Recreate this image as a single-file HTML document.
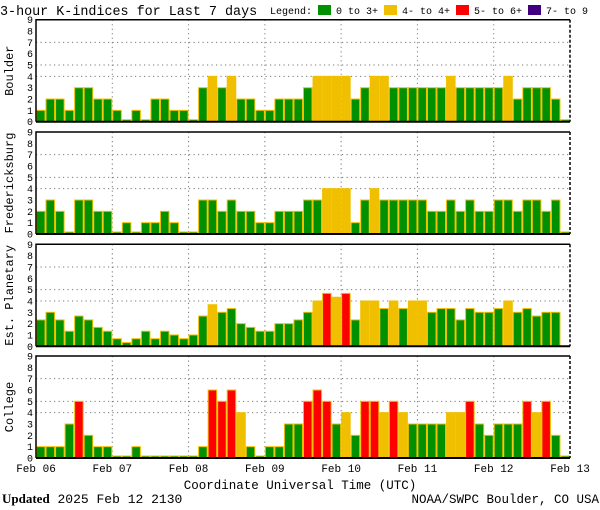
<!DOCTYPE html>
<html><head><meta charset="utf-8">
<style>
body{margin:0;background:#fff;width:600px;height:510px;overflow:hidden}
svg{display:block}
text{font-family:"Liberation Mono","DejaVu Sans Mono",monospace;fill:#000}
</style></head>
<body>
<svg id="chart" width="600" height="510" viewBox="0 0 600 510" xmlns="http://www.w3.org/2000/svg">
<text x="0" y="15" font-size="13.4">3-hour K-indices for Last 7 days</text>
<text x="270" y="14" font-size="10">Legend:</text>
<rect x="318" y="5" width="13" height="10" fill="#009000"/>
<text x="336" y="14" font-size="10">0 to 3+</text>
<rect x="384" y="5" width="13" height="10" fill="#f0c000"/>
<text x="402" y="14" font-size="10">4- to 4+</text>
<rect x="456" y="5" width="13" height="10" fill="#ff0000"/>
<text x="474" y="14" font-size="10">5- to 6+</text>
<rect x="528" y="5" width="13" height="10" fill="#400080"/>
<text x="546" y="14" font-size="10">7- to 9</text>
<text x="300" y="489" font-size="12.5" text-anchor="middle">Coordinate Universal Time (UTC)</text>
<text x="2" y="503" font-size="13"><tspan font-family="Liberation Serif,serif" font-weight="bold">Updated</tspan> 2025 Feb 12 2130</text>
<text x="599" y="503" font-size="12.5" text-anchor="end">NOAA/SWPC Boulder, CO USA</text>
</svg>
<script>
const panelNames = ["Boulder","Fredericksburg","Est. Planetary","College"];
const dayLabels = ["Feb 06","Feb 07","Feb 08","Feb 09","Feb 10","Feb 11","Feb 12","Feb 13"];
const yTicks = [0,1,2,3,4,5,6,7,8,9];
const gridLevels = [4,5,7];
const boulder = [1,2,2,1,3,3,2,2,1,0,1,0,2,2,1,1,0,3,4,3,4,2,2,1,1,2,2,2,3,4,4,4,4,2,3,4,4,3,3,3,3,3,3,4,3,3,3,3,3,4,2,3,3,3,2,0];
const fredericksburg = [2,3,2,0,3,3,2,2,0,1,0,1,1,2,1,0,0,3,3,2,3,2,2,1,1,2,2,2,3,3,4,4,4,1,3,4,3,3,3,3,3,2,2,3,2,3,2,2,3,3,2,3,3,2,3,0];
const planetary = [2.33,3,2.33,1.33,2.67,2.33,1.67,1.33,0.67,0.33,0.67,1.33,0.67,1.33,1,0.67,1,2.67,3.67,3,3.33,2,1.67,1.33,1.33,2,2,2.33,3,4,4.67,4.33,4.67,2.33,4,4,3.33,4,3.33,4,4,3,3.33,3.33,2.33,3.33,3,3,3.33,4,3,3.33,2.67,3,3,null];
const college = [1,1,1,3,5,2,1,1,0,0,1,0,0,0,0,0,0,1,6,5,6,4,1,0,1,1,3,3,5,6,5,3,4,2,5,5,4,5,4,3,3,3,3,4,4,5,3,2,3,3,3,5,4,5,2,0];
const series = [boulder,fredericksburg,planetary,college];

const svg = document.getElementById('chart');
const NS = 'http://www.w3.org/2000/svg';
const X0 = 36, X1 = 570, NB = 56, tops = [19.7,132,244.3,356], PH = 102;
const bw = (X1 - X0) / NB;
const xScale = i => X0 + i * bw;
function mk(tag, attrs){const e=document.createElementNS(NS,tag);for(const k in attrs)e.setAttribute(k,attrs[k]);svg.appendChild(e);return e;}
function color(v){return v>=6.5?'#400080':v>=4.5?'#ff0000':v>=3.5?'#f0c000':'#009000';}

series.forEach((data,p)=>{
  const top = tops[p], bot = top + PH;
  const yScale = v => bot - v * PH / 9;
  // grid
  gridLevels.forEach(g=>{
    const l = mk('line',{x1:X0,x2:X1,y1:yScale(g),y2:yScale(g),stroke:'#777','stroke-dasharray':'1.2,3.3','stroke-width':1});
    
    
  });
  for(let d=1; d<7; d++){
    const l = mk('line',{x1:xScale(d*8),x2:xScale(d*8),y1:top,y2:bot,stroke:'#777','stroke-dasharray':'1.2,3.3','stroke-width':1});
    
    
  }
  // bars
  data.forEach((v,i)=>{
    if(v===null) return;
    const h = Math.max(v*PH/9, 2);
    const r = mk('rect',{x:xScale(i)+0.5,y:bot-h,width:bw-1,height:h,fill:color(v),stroke:'#f0c000','stroke-width':1});
    
    
  });
  // frame
  const f1 = mk('path',{d:`M${X0},${bot} L${X0},${top} L${X1},${top}`,fill:'none',stroke:'#000','stroke-width':1.5});
  
  
  const f2 = mk('line',{x1:X1,x2:X1,y1:top,y2:bot,stroke:'#000','stroke-width':1.5,'stroke-dasharray':'3,2'});
  
  
  const f3 = mk('line',{x1:X0,x2:X1,y1:bot,y2:bot,stroke:'#000','stroke-width':2});
  
  
  // y ticks
  yTicks.forEach(t=>{
    const tx = mk('text',{x:33,y:yScale(t)+3.5,'font-size':10,'text-anchor':'end'});
    tx.textContent = t;
    
    
  });
  const cy = top + PH/2;
  const yt = mk('text',{x:13,y:cy,'font-size':12,'text-anchor':'middle',transform:`rotate(-90 13 ${cy})`});
  yt.textContent = panelNames[p];
  
  
});
dayLabels.forEach((d,i)=>{
  const t = mk('text',{x:xScale(i*8),y:472,'font-size':11,'text-anchor':'middle'});
  t.textContent = d;
  
  
});
</script>
</body></html>
